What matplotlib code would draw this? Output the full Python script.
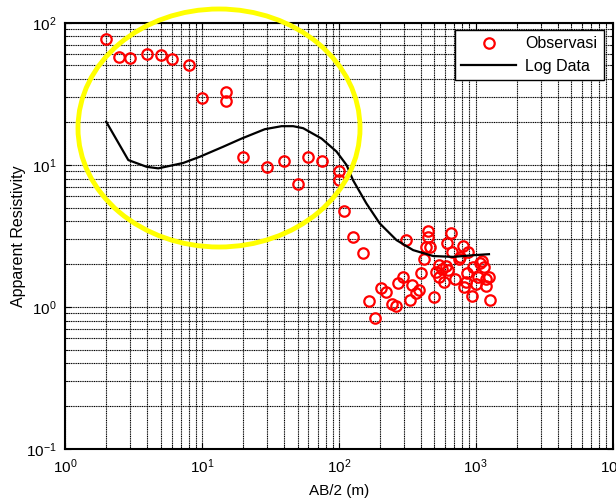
import matplotlib
matplotlib.use('Agg')
import matplotlib.pyplot as plt
from matplotlib.patches import Ellipse

plt.rcParams['font.family'] = ['Liberation Sans', 'DejaVu Sans']
plt.rcParams['mathtext.default'] = 'regular'
plt.rcParams['axes.unicode_minus'] = False

# observed apparent resistivity
obs_ab2 = [2, 2.5, 3, 4, 5, 6, 8, 10, 15, 15, 20, 30, 40, 50, 60, 75, 100, 100,
           110, 127, 149, 165, 184, 205, 223, 243, 261, 271, 292, 308, 330, 345,
           369, 384, 397, 417, 436, 449, 449, 467, 494, 516, 540, 540, 571, 584,
           604, 628, 618, 657, 676, 703, 755, 773, 808, 846, 817, 865, 880, 946,
           956, 1000, 1040, 1069, 1118, 1143, 1183, 1197, 1250, 1265]
obs_rho = [76.7, 57.6, 56.4, 60.5, 59.3, 55.5, 50.3, 29.6, 32.4, 28.1, 11.3, 9.6,
           10.6, 7.28, 11.3, 10.6, 9.1, 7.84, 4.74, 3.1, 2.39, 1.10, 0.84, 1.35,
           1.28, 1.04, 1.01, 1.48, 1.63, 2.98, 1.11, 1.42, 1.26, 1.31, 1.74, 2.16,
           2.62, 3.43, 3.11, 2.65, 1.17, 1.76, 1.97, 1.63, 1.86, 1.50, 1.94, 1.81,
           2.80, 3.29, 2.44, 1.56, 2.16, 2.25, 2.68, 1.50, 1.38, 1.72, 2.44, 1.19,
           1.91, 1.46, 1.63, 2.04, 2.11, 1.91, 1.58, 1.40, 1.63, 1.11]

# calculated (log data) curve
log_ab2 = [2, 2.9, 3.95, 4.8, 7.3, 9.67, 14.3, 19.5, 28.8, 38.2, 46.4, 54.9,
           74.8, 96.2, 114, 127, 159, 199, 264, 349, 489, 684, 956, 1250]
log_rho = [20.1, 10.8, 9.68, 9.44, 10.3, 11.4, 13.4, 15.3, 17.8, 18.7, 18.7, 18.1,
           15.3, 12.4, 9.95, 7.8, 5.35, 3.87, 2.95, 2.51, 2.28, 2.25, 2.31, 2.35]

fig = plt.figure(figsize=(6.16, 4.99), dpi=100)
ax = fig.add_axes([0.1055, 0.1002, 0.889, 0.8543])

ax.plot(obs_ab2, obs_rho, 'o', mfc='none', mec='red', mew=1.6, ms=7.5,
        label='Observasi', clip_on=False, zorder=3)
ax.plot(log_ab2, log_rho, '-', color='black', lw=1.6, label='Log Data', zorder=4)

ax.set_xscale('log')
ax.set_yscale('log')
ax.set_xlim(1, 1e4)
ax.set_ylim(0.1, 100)

ax.grid(True, which='both', color='black', linestyle=(0, (1, 0.6)), lw=0.8)
ax.tick_params(which='both', direction='in', top=True, right=True, labelsize=11)
ax.tick_params(which='major', length=4, pad=6)
ax.tick_params(which='minor', length=2)
for sp in ax.spines.values():
    sp.set_linewidth(1.5)

ax.set_xlabel('AB/2 (m)', fontsize=11, labelpad=6)
ax.set_ylabel('Apparent Resistivity', fontsize=11.5, labelpad=0)

leg = ax.legend(loc='upper right', fontsize=11.5, fancybox=False, framealpha=1,
                edgecolor='black', borderpad=0.4, handlelength=3.4,
                labelspacing=0.45, handletextpad=0.6, borderaxespad=0,
                bbox_to_anchor=(0.9836, 0.983))
leg.get_frame().set_linewidth(1.0)
leg.set_zorder(6)

# highlight ellipse (figure pixels -> fraction)
W, H = 616, 499
ell = Ellipse((219 / W, 1 - 128 / H), 282 / W, 238 / H, transform=fig.transFigure,
              fill=False, edgecolor='#FFFF00', lw=3.5, zorder=5)
fig.patches.append(ell)

fig.savefig('out.png', dpi=100)
